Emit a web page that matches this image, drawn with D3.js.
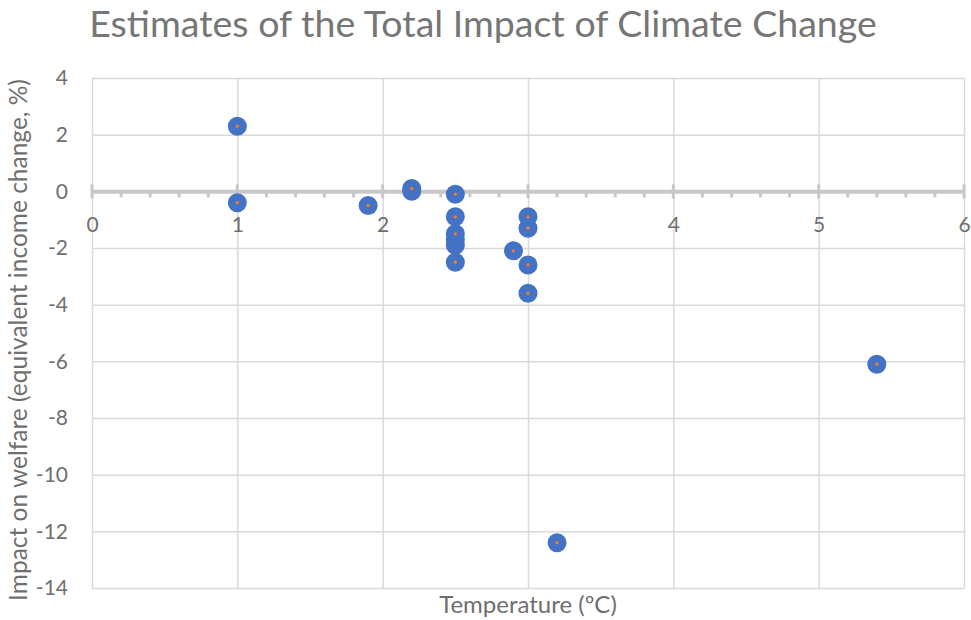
<!DOCTYPE html>
<html>
<head>
<meta charset="utf-8">
<title>Estimates of the Total Impact of Climate Change</title>
<script src="https://cdn.jsdelivr.net/npm/d3@7/dist/d3.min.js"></script>
<style>
	body { margin: 0; background: #fff; }
	svg text { font-family: Lato, "Open Sans", sans-serif; }
</style>
</head>
<body>
<div id="chart"></div>
<script>
// data
var tempC   = [1, 1, 1.9, 2.2, 2.2, 2.5, 2.5, 2.5, 2.5, 2.5, 2.5, 2.9, 3, 3, 3, 3, 3.2, 5.4];
var impact  = [2.3, -0.4, -0.5, 0.1, 0.0, -0.1, -0.9, -1.5, -1.7, -1.9, -2.5, -2.1, -0.9, -1.3, -2.6, -3.6, -12.4, -6.1];
// small orange markers (second series, only where they show)
var tempC2  = [1, 1, 1.9, 2.2, 2.5, 2.5, 2.5, 2.5, 2.9, 3, 3, 3, 3, 3.2, 5.4];
var impact2 = [2.3, -0.4, -0.5, 0.1, -0.1, -0.9, -1.5, -2.5, -2.1, -0.9, -1.3, -2.6, -3.6, -12.4, -6.1];
var xTicks = [0, 1, 2, 3, 4, 5, 6];
var yTicks = [4, 2, 0, -2, -4, -6, -8, -10, -12, -14];

var W = 971, H = 620;
var pL = 92, pR = 964, pT = 78, pB = 588;

var svg = d3.select('#chart').append('svg')
	.attr('width', W)
	.attr('height', H);

var x = d3.scaleLinear().domain([0, 6]).range([pL, pR]);
var y = d3.scaleLinear().domain([-14, 4]).range([pB, pT]);
var plain = function(d){ return String(d); };

// title
svg.append('text')
	.attr('x', 483).attr('y', 37)
	.attr('text-anchor', 'middle')
	.attr('font-size', '37.5px')
	.attr('fill', '#767676')
	.text('Estimates of the Total Impact of Climate Change');

// vertical grid
var gx = svg.append('g')
	.attr('transform', 'translate(0,' + pB + ')')
	.call(d3.axisBottom(x).tickValues(xTicks).tickSize(-(pB - pT)).tickFormat(''));
gx.select('.domain').remove();
gx.selectAll('line').attr('stroke', '#d9d9d9').attr('stroke-width', 1.5);

// horizontal grid + y labels
var gy = svg.append('g')
	.attr('transform', 'translate(' + pL + ',0)')
	.call(d3.axisLeft(y).tickValues(yTicks).tickSize(-(pR - pL)).tickPadding(24).tickFormat(plain));
gy.select('.domain').remove();
gy.selectAll('line').attr('stroke', '#d9d9d9').attr('stroke-width', 1.5);
gy.selectAll('text')
	.attr('font-size', '21px')
	.attr('fill', '#6f6f6f');

// x axis sitting on y = 0
var xa = svg.append('g')
	.attr('transform', 'translate(0,' + y(0) + ')')
	.call(d3.axisBottom(x).tickValues(xTicks).tickSize(0).tickPadding(26).tickFormat(plain));
xa.select('.domain').attr('stroke', '#c8c8c8').attr('stroke-width', 4);
xa.selectAll('text')
	.attr('font-size', '21px')
	.attr('fill', '#6f6f6f');

// minor ticks (below the line)
var minor = x.ticks(30).filter(function(d){ return Math.abs(d - Math.round(d)) > 1e-6; });
svg.append('g').selectAll('line')
	.data(minor)
	.enter()
	.append('line')
	.attr('x1', function(d){ return x(d); })
	.attr('x2', function(d){ return x(d); })
	.attr('y1', y(0))
	.attr('y2', y(0) + 6)
	.attr('stroke', '#c8c8c8')
	.attr('stroke-width', 3);

// major ticks (cross the line)
svg.append('g').selectAll('line')
	.data(xTicks)
	.enter()
	.append('line')
	.attr('x1', function(d){ return x(d); })
	.attr('x2', function(d){ return x(d); })
	.attr('y1', y(0) - 7)
	.attr('y2', y(0) + 7)
	.attr('stroke', '#c8c8c8')
	.attr('stroke-width', 3);

// axis titles
svg.append('text')
	.attr('x', (pL + pR) / 2).attr('y', 613)
	.attr('text-anchor', 'middle')
	.attr('font-size', '24px')
	.attr('fill', '#6f6f6f')
	.text('Temperature (ºC)');

svg.append('text')
	.attr('transform', 'translate(27,' + ((pT + pB) / 2 + 7) + ') rotate(-90)')
	.attr('text-anchor', 'middle')
	.attr('font-size', '24.5px')
	.attr('fill', '#6f6f6f')
	.text('Impact on welfare (equivalent income change, %)');

// blue markers
svg.append('g').selectAll('circle')
	.data(d3.zip(tempC, impact))
	.enter()
	.append('circle')
	.attr('cx', function(d){ return x(d[0]); })
	.attr('cy', function(d){ return y(d[1]); })
	.attr('r', 9.5)
	.attr('fill', '#4472c4');

// orange dots
svg.append('g').selectAll('circle')
	.data(d3.zip(tempC2, impact2))
	.enter()
	.append('circle')
	.attr('cx', function(d){ return x(d[0]); })
	.attr('cy', function(d){ return y(d[1]); })
	.attr('r', 1.7)
	.attr('fill', '#ed7d31');
</script>
</body>
</html>
